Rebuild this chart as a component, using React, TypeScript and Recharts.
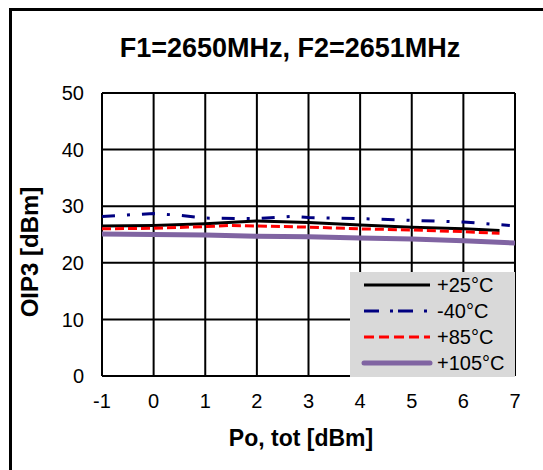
import React from 'react';
import { LineChart, Line, XAxis, YAxis, CartesianGrid, Legend } from 'recharts';

const title = 'F1=2650MHz, F2=2651MHz';
const xTitle = 'Po, tot [dBm]';
const yTitle = 'OIP3 [dBm]';

const xTicks = [-1, 0, 1, 2, 3, 4, 5, 6, 7];
const yTicks = [0, 10, 20, 30, 40, 50];

const seriesNames = ['+25°C', '-40°C', '+85°C', '+105°C'];

const x25 = [-1, 0, 1, 2, 3, 4, 5, 6, 6.7];
const y25 = [26.5, 26.6, 26.9, 27.4, 27.1, 26.7, 26.3, 26.0, 25.7];

const xm40 = [-1, 0, 0.5, 1, 2, 2.7, 3, 4, 5, 6, 6.9];
const ym40 = [28.2, 28.7, 28.4, 27.9, 27.8, 28.2, 28.0, 27.8, 27.5, 27.2, 26.6];

const x85 = [-1, 0, 1, 1.5, 2, 3, 4, 5, 6, 6.7];
const y85 = [26.0, 26.1, 26.4, 26.6, 26.5, 26.3, 26.0, 25.8, 25.5, 25.2];

const x105 = [-1, 0, 1, 2, 3, 4, 5, 6, 7];
const y105 = [25.1, 25.0, 24.9, 24.7, 24.6, 24.4, 24.2, 23.9, 23.5];

const toData = (xs: number[], ys: number[]) => xs.map((x, i) => ({ x, y: ys[i] }));

const d25 = toData(x25, y25);
const dm40 = toData(xm40, ym40);
const d85 = toData(x85, y85);
const d105 = toData(x105, y105);

const FONT = '"Liberation Sans", Arial, sans-serif';

const styles = [
  { stroke: '#000000', width: 3, dash: undefined as string | undefined, legendDash: undefined as string | undefined },
  { stroke: '#000080', width: 3, dash: '13 12 3 12', legendDash: '15 11 3 5' },
  { stroke: '#ff0000', width: 3, dash: '9 4', legendDash: '10 5' },
  { stroke: '#8064a2', width: 5, dash: undefined, legendDash: undefined },
];

const renderLegend = () => (
  <div style={{ width: 165, height: 105, background: '#d9d9d9' }}>
    <svg width={165} height={105} style={{ display: 'block' }}>
      {seriesNames.map((name, i) => {
        const cy = 13 + i * 26;
        const s = styles[i];
        return (
          <g key={name}>
            <line
              x1={14}
              x2={80}
              y1={cy}
              y2={cy}
              stroke={s.stroke}
              strokeWidth={s.width}
              strokeDasharray={s.legendDash}
              strokeLinecap={i === 3 ? 'round' : 'butt'}
            />
            <text x={87} y={cy + 7} fontSize={20} fontFamily={FONT} fill="#000">
              {name}
            </text>
          </g>
        );
      })}
    </svg>
  </div>
);

export default function App() {
  return (
    <div style={{ position: 'absolute', left: 0, top: 0, width: 543, height: 470, background: '#fff', overflow: 'hidden' }}>
      <div
        style={{
          position: 'absolute',
          left: 9,
          top: 8,
          width: 534,
          height: 462,
          borderLeft: '3px solid #000',
          borderTop: '3px solid #000',
          boxSizing: 'border-box',
        }}
      />
      <div style={{ position: 'absolute', left: 0, top: 0 }}>
        <LineChart width={543} height={470} margin={{ top: 93, right: 28, bottom: 54, left: 42 }}>
          <CartesianGrid stroke="#000" strokeWidth={2} verticalPoints={undefined} />
          <XAxis
            type="number"
            dataKey="x"
            domain={[-1, 7]}
            ticks={xTicks}
            height={40}
            tickLine={false}
            axisLine={false}
            tickSize={0}
            tickMargin={18}
            tick={{ fontSize: 20, fill: '#000', fontFamily: FONT }}
            allowDataOverflow
          />
          <YAxis
            type="number"
            domain={[0, 50]}
            ticks={yTicks}
            width={60}
            tickLine={false}
            axisLine={false}
            tickSize={0}
            tickMargin={18}
            tick={{ fontSize: 20, fill: '#000', fontFamily: FONT }}
          />
          <Line data={d25} dataKey="y" name={seriesNames[0]} stroke={styles[0].stroke} strokeWidth={styles[0].width} dot={false} activeDot={false} isAnimationActive={false} />
          <Line data={dm40} dataKey="y" name={seriesNames[1]} stroke={styles[1].stroke} strokeWidth={styles[1].width} strokeDasharray={styles[1].dash} dot={false} activeDot={false} isAnimationActive={false} />
          <Line data={d85} dataKey="y" name={seriesNames[2]} stroke={styles[2].stroke} strokeWidth={styles[2].width} strokeDasharray={styles[2].dash} dot={false} activeDot={false} isAnimationActive={false} />
          <Line data={d105} dataKey="y" name={seriesNames[3]} stroke={styles[3].stroke} strokeWidth={styles[3].width} dot={false} activeDot={false} isAnimationActive={false} />
          <Legend
            layout="vertical"
            align="center"
            verticalAlign="middle"
            content={renderLegend}
            wrapperStyle={{ position: 'absolute', left: 350, top: 272, width: 165, height: 105 }}
          />
        </LineChart>
      </div>
      <svg width={543} height={470} style={{ position: 'absolute', left: 0, top: 0, pointerEvents: 'none' }}>
        <text x={290} y={57} textAnchor="middle" fontSize={27} fontWeight="bold" fontFamily={FONT} fill="#000">
          {title}
        </text>
        <text x={301} y={446} textAnchor="middle" fontSize={23} fontWeight="bold" fontFamily={FONT} fill="#000">
          {xTitle}
        </text>
        <text
          x={38}
          y={252}
          textAnchor="middle"
          fontSize={24}
          fontWeight="bold"
          fontFamily={FONT}
          fill="#000"
          transform="rotate(-90, 38, 252)"
        >
          {yTitle}
        </text>
      </svg>
    </div>
  );
}
